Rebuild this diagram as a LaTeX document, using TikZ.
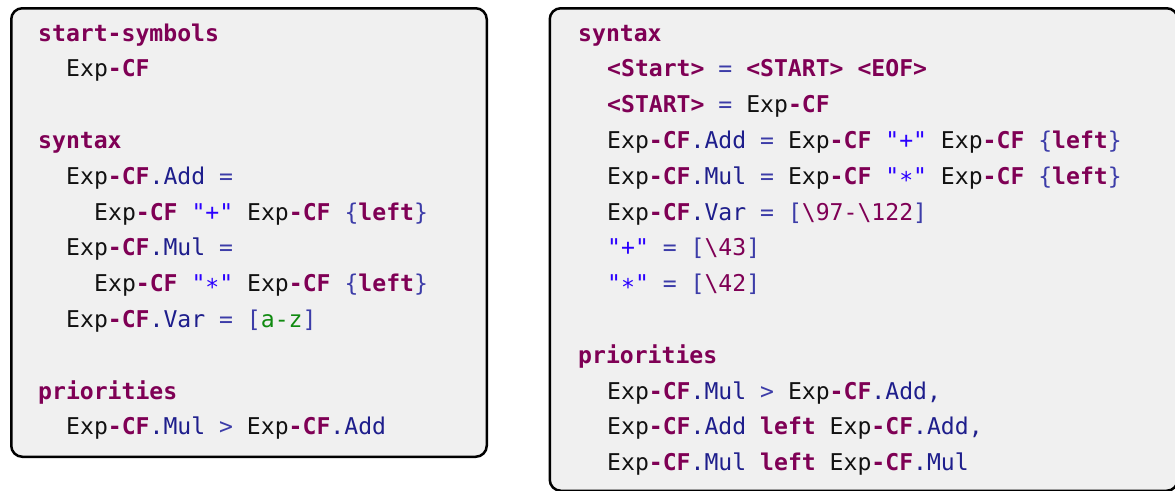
\documentclass[tikz,border=0pt]{standalone}
\usepackage{fontspec}
\setmonofont{DejaVu Sans Mono}
\usepackage{xcolor}
\definecolor{kwc}{HTML}{7F0055}
\definecolor{consc}{HTML}{1E1E8C}
\definecolor{opc}{HTML}{3C3CA8}
\definecolor{strc}{HTML}{2A00FF}
\definecolor{grnc}{HTML}{108A10}
\definecolor{plainc}{HTML}{111111}
\definecolor{panelfill}{HTML}{F0F0F0}
% syntax highlighting helpers
\newcommand\kw[1]{\textcolor{kwc}{\bfseries #1}}
\newcommand\expcf{\textcolor{plainc}{Exp}\kw{-CF}}
\newcommand\cons[1]{\textcolor{consc}{#1}}
\newcommand\op[1]{\textcolor{opc}{#1}}
\newcommand\strlit[1]{\textcolor{strc}{#1}}
\newcommand\esc[1]{\textcolor{kwc}{#1}}
\newcommand\bs{\textbackslash}
\newcommand\lowast{\raisebox{-0.18em}{*}}
\begin{document}
\begin{tikzpicture}[x=1pt,y=-1pt,
  panel/.style={draw=black, line width=2.5pt, fill=panelfill, rounded corners=11pt, inner sep=0pt},
  code/.style={anchor=base west, inner sep=0pt, font=\ttfamily\fontsize{23.1}{27}\selectfont, text=plainc}]
\useasboundingbox (0,0) rectangle (1175,490);

% panels
\node[panel, minimum width=475.5pt, minimum height=448.5pt] (leftpanel) at (249,232.5) {};
\node[panel, minimum width=628pt, minimum height=482.5pt] (rightpanel) at (863.75,249.5) {};

% left panel: source grammar
\def\ya{41}\def\dy{35.8}
\node[code] (l0) at (38,{\ya+0*\dy}) {\kw{start-symbols}};
\node[code] (l1) at (66,{\ya+1*\dy}) {\expcf};
\node[code] (l3) at (38,{\ya+3*\dy}) {\kw{syntax}};
\node[code] (l4) at (66,{\ya+4*\dy}) {\expcf\cons{.Add} \op{=}};
\node[code] (l5) at (94,{\ya+5*\dy}) {\expcf{} \strlit{"+"} \expcf{} \op{\{}\kw{left}\op{\}}};
\node[code] (l6) at (66,{\ya+6*\dy}) {\expcf\cons{.Mul} \op{=}};
\node[code] (l7) at (94,{\ya+7*\dy}) {\expcf{} \strlit{"\lowast"} \expcf{} \op{\{}\kw{left}\op{\}}};
\node[code] (l8) at (66,{\ya+8*\dy}) {\expcf\cons{.Var} \op{=} \op{[}\textcolor{grnc}{a-z}\op{]}};
\node[code] (l10) at (38,{\ya+10*\dy}) {\kw{priorities}};
\node[code] (l11) at (66,{\ya+11*\dy}) {\expcf\cons{.Mul} \op{>} \expcf\cons{.Add}};

% right panel: normalized grammar
\node[code] (r0) at (578,{\ya+0*\dy}) {\kw{syntax}};
\node[code] (r1) at (607,{\ya+1*\dy}) {\kw{<Start>} \op{=} \kw{<START>} \kw{<EOF>}};
\node[code] (r2) at (607,{\ya+2*\dy}) {\kw{<START>} \op{=} \expcf};
\node[code] (r3) at (607,{\ya+3*\dy}) {\expcf\cons{.Add} \op{=} \expcf{} \strlit{"+"} \expcf{} \op{\{}\kw{left}\op{\}}};
\node[code] (r4) at (607,{\ya+4*\dy}) {\expcf\cons{.Mul} \op{=} \expcf{} \strlit{"\lowast"} \expcf{} \op{\{}\kw{left}\op{\}}};
\node[code] (r5) at (607,{\ya+5*\dy}) {\expcf\cons{.Var} \op{=} \op{[}\esc{\bs97-\bs122}\op{]}};
\node[code] (r6) at (607,{\ya+6*\dy}) {\strlit{"+"} \op{=} \op{[}\esc{\bs43}\op{]}};
\node[code] (r7) at (607,{\ya+7*\dy}) {\strlit{"\lowast"} \op{=} \op{[}\esc{\bs42}\op{]}};
\node[code] (r9) at (578,{\ya+9*\dy}) {\kw{priorities}};
\node[code] (r10) at (607,{\ya+10*\dy}) {\expcf\cons{.Mul} \op{>} \expcf\cons{.Add,}};
\node[code] (r11) at (607,{\ya+11*\dy}) {\expcf\cons{.Add} \kw{left} \expcf\cons{.Add,}};
\node[code] (r12) at (607,{\ya+12*\dy}) {\expcf\cons{.Mul} \kw{left} \expcf\cons{.Mul}};
\end{tikzpicture}
\end{document}
